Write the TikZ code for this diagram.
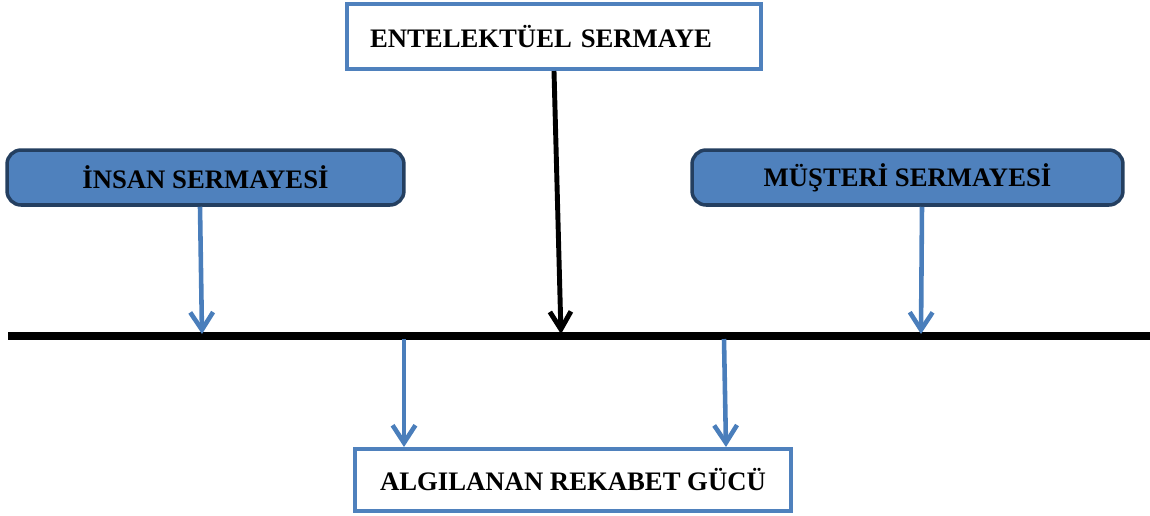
\documentclass[tikz,border=0pt]{standalone}
\usepackage{fontspec}
\setmainfont{Liberation Serif}
\usepackage{xcolor}
\usepackage{tikz}
\usetikzlibrary{arrows.meta, positioning, calc}
\definecolor{boxblue}{HTML}{4F81BD}
\definecolor{boxnavy}{HTML}{243F60}
\definecolor{arrowblue}{HTML}{4A7EBB}

\begin{document}
\begin{tikzpicture}[
    x=0.02cm, y=-0.02cm,
    plainbox/.style={rectangle, draw=boxblue, fill=white, line width=2.3pt,
                 minimum height=1.24cm, font=\fontsize{15.2}{18}\selectfont\bfseries,
                 align=center},
    capbox/.style={rectangle, draw=boxnavy, fill=boxblue, line width=2pt,
                 minimum height=1.1cm, font=\fontsize{15.2}{18}\selectfont\bfseries,
                 align=center, rounded corners=8pt},
    bluearrow/.style={-{Straight Barb[length=10pt, width=13pt]}, line width=2.6pt,
                 arrowblue, line join=round},
    blackarrow/.style={-{Straight Barb[length=10pt, width=12pt]}, line width=2.8pt,
                 black, line join=round}
]
\useasboundingbox (0,0) rectangle (1150,515);

% Boxes
\node[plainbox, minimum width=8.28cm, minimum height=1.3cm, text width=7.36cm, align=left] at (554,36.5) (entel) {ENTELEKT\"UEL SERMAYE};
\node[capbox, minimum width=7.94cm] at (205.5,177.5) (insan) {İNSAN SERMAYESİ};
\node[capbox, minimum width=8.62cm] at (907.5,177.5) (musteri) {MÜŞTERİ SERMAYESİ};
\node[plainbox, minimum width=8.72cm] at (573,480) (algi) {ALGILANAN REKABET GÜCÜ};

% Main line
\coordinate (lineL) at (8,336);
\coordinate (lineR) at (1150,336);
\draw[line width=5pt] (lineL) -- (lineR);

% Points on the line
\coordinate (inA) at (202,334);
\coordinate (inB) at (561,334);
\coordinate (inC) at (921,334);
\coordinate (outA) at (404,339);
\coordinate (outB) at (724,339);

% Arrows
\draw[blackarrow] (entel.south) -- (inB);
\draw[bluearrow] (insan.south -| 200,0) -- (inA);
\draw[bluearrow] (musteri.south -| 922,0) -- (inC);
\draw[bluearrow] (outA) -- (outA |- algi.north);
\draw[bluearrow] (outB) -- ($(outB |- algi.north)+(2,0)$);

\end{tikzpicture}
\end{document}
